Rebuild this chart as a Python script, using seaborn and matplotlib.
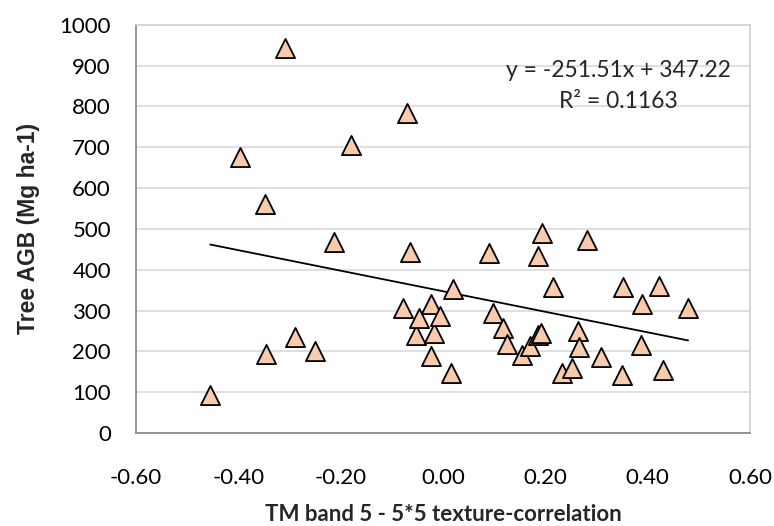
import numpy as np
import pandas as pd
import matplotlib
matplotlib.use('Agg')
import matplotlib.pyplot as plt
import seaborn as sns

# texture-correlation values and tree AGB
texture_corr = [-0.455, -0.397, -0.347, -0.345, -0.308, -0.289, -0.250, -0.213,
                -0.179, -0.078, -0.070, -0.065, -0.053, -0.047, -0.024, -0.024,
                -0.018, -0.005, 0.016, 0.019, 0.090, 0.098, 0.117, 0.125,
                0.155, 0.171, 0.185, 0.186, 0.191, 0.193, 0.215, 0.232,
                0.253, 0.263, 0.265, 0.281, 0.309, 0.349, 0.352, 0.387,
                0.389, 0.423, 0.430, 0.479]
tree_agb = [92, 677, 560, 194, 944, 234, 202, 469,
            705, 307, 785, 444, 240, 281, 316, 189,
            246, 286, 148, 352, 440, 295, 257, 218,
            191, 212, 240, 434, 244, 491, 358, 147,
            160, 250, 210, 472, 185, 141, 358, 216,
            315, 361, 155, 307]

# trendline as printed on the chart
slope = -251.51
intercept = 347.22
r2 = 0.1163

x_ticks = [-0.6, -0.4, -0.2, 0.0, 0.2, 0.4, 0.6]
y_ticks = list(range(0, 1001, 100))

df = pd.DataFrame({'x': texture_corr, 'y': tree_agb})
x_fit = np.array([min(texture_corr), max(texture_corr)])
fit = pd.DataFrame({'x': x_fit, 'y': slope * x_fit + intercept})

sns.set_style('white')
plt.rcParams['font.family'] = ['Lato', 'DejaVu Sans']

fig = plt.figure(figsize=(7.74, 5.26), dpi=100)
ax = fig.add_axes([0.1757, 0.1768, 0.7933, 0.7762])

ax.grid(axis='y', color='#d9d9d9', linewidth=1.2, zorder=0)
ax.set_axisbelow(True)

sns.lineplot(data=fit, x='x', y='y', color='black', linewidth=1.3, ax=ax, zorder=2)
sns.scatterplot(data=df, x='x', y='y', marker='^', s=190, color='#f8cbad',
                edgecolor='black', linewidth=1.3, ax=ax, zorder=3)

ax.set_xlim(-0.6, 0.6)
ax.set_ylim(0, 1000)
ax.set_xticks(x_ticks)
ax.set_xticklabels([f'{t:.2f}' for t in x_ticks])
ax.set_yticks(y_ticks)
ax.tick_params(axis='both', length=0, labelsize=16, colors='black')
ax.tick_params(axis='x', pad=25)
ax.tick_params(axis='y', pad=18)

for side in ['left', 'bottom']:
    ax.spines[side].set_color('#8c8c8c')
    ax.spines[side].set_linewidth(1.3)
for side in ['top', 'right']:
    ax.spines[side].set_color('#d0d0d0')
    ax.spines[side].set_linewidth(1.2)

ax.set_xlabel('TM band 5 - 5*5 texture-correlation', fontsize=16, fontweight='bold', labelpad=12)
ax.set_ylabel('Tree AGB (Mg ha-1)', fontsize=16.5, fontweight='bold', labelpad=14,
              family=['Liberation Sans', 'DejaVu Sans'])

ax.text(0.342, 889, f'y = {slope}x + {intercept}', ha='center', va='center', fontsize=16.5)
ax.text(0.342, 811, f'R² = {r2}', ha='center', va='center', fontsize=16.5)

fig.savefig('out.png', dpi=100)
